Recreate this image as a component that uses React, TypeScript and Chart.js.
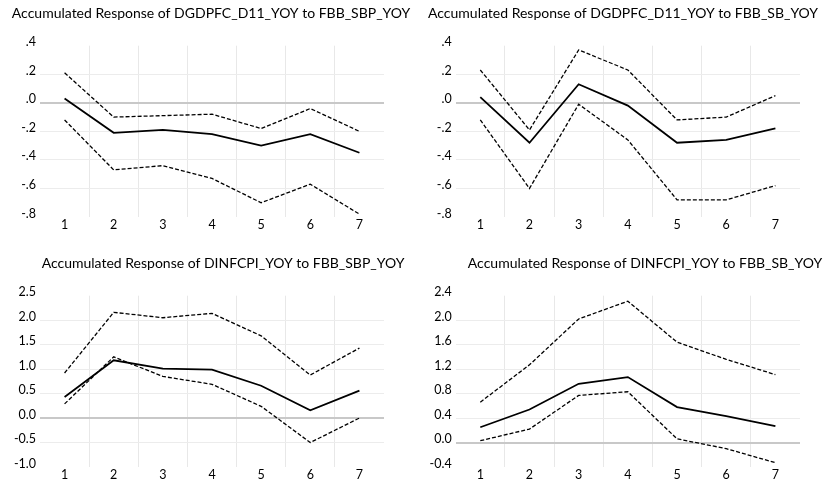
import React, { useEffect, useRef } from "react";
import { Chart, registerables } from "chart.js";

Chart.register(...registerables);

const FONT = "Lato, 'Liberation Sans', sans-serif";

// ---- data ----
const periods = ["1", "2", "3", "4", "5", "6", "7"];

const gdpSbpTitle = "Accumulated Response of DGDPFC_D11_YOY to FBB_SBP_YOY";
const gdpSbpResponse = [0.03, -0.21, -0.19, -0.22, -0.3, -0.22, -0.35];
const gdpSbpUpper = [0.21, -0.1, -0.09, -0.08, -0.18, -0.04, -0.2];
const gdpSbpLower = [-0.12, -0.47, -0.44, -0.53, -0.7, -0.57, -0.78];

const gdpSbTitle = "Accumulated Response of DGDPFC_D11_YOY to FBB_SB_YOY";
const gdpSbResponse = [0.04, -0.28, 0.13, -0.02, -0.28, -0.26, -0.18];
const gdpSbUpper = [0.23, -0.19, 0.37, 0.23, -0.12, -0.1, 0.05];
const gdpSbLower = [-0.12, -0.6, -0.01, -0.26, -0.68, -0.68, -0.58];

const cpiSbpTitle = "Accumulated Response of DINFCPI_YOY to FBB_SBP_YOY";
const cpiSbpResponse = [0.43, 1.18, 1.01, 0.99, 0.66, 0.16, 0.56];
const cpiSbpUpper = [0.92, 2.16, 2.05, 2.14, 1.68, 0.88, 1.43];
const cpiSbpLower = [0.29, 1.25, 0.85, 0.69, 0.24, -0.5, 0.0];

const cpiSbTitle = "Accumulated Response of DINFCPI_YOY to FBB_SB_YOY";
const cpiSbResponse = [0.25, 0.54, 0.96, 1.07, 0.58, 0.43, 0.27];
const cpiSbUpper = [0.66, 1.27, 2.02, 2.31, 1.64, 1.36, 1.11];
const cpiSbLower = [0.03, 0.22, 0.77, 0.83, 0.06, -0.1, -0.33];

const gdpTickValues = [-0.8, -0.6, -0.4, -0.2, 0, 0.2, 0.4];
const gdpTickLabels = ["-.8", "-.6", "-.4", "-.2", ".0", ".2", ".4"];
const cpiSbpTickValues = [-1.0, -0.5, 0, 0.5, 1.0, 1.5, 2.0, 2.5];
const cpiSbpTickLabels = ["-1.0", "-0.5", "0.0", "0.5", "1.0", "1.5", "2.0", "2.5"];
const cpiSbTickValues = [-0.4, 0, 0.4, 0.8, 1.2, 1.6, 2.0, 2.4];
const cpiSbTickLabels = ["-0.4", "0.0", "0.4", "0.8", "1.2", "1.6", "2.0", "2.4"];

type PanelDef = {
  title: string;
  response: number[];
  upper: number[];
  lower: number[];
  tickValues: number[];
  tickLabels: string[];
  left: number;
  top: number;
  width: number;
  height: number;
  yAxisWidth: number;
  padRight: number;
  titleX: number;
};

const panels: PanelDef[] = [
  {
    title: gdpSbpTitle, response: gdpSbpResponse, upper: gdpSbpUpper, lower: gdpSbpLower,
    tickValues: gdpTickValues, tickLabels: gdpTickLabels,
    left: 0, top: 0, width: 430, height: 242, yAxisWidth: 40, padRight: 46, titleX: 211,
  },
  {
    title: gdpSbTitle, response: gdpSbResponse, upper: gdpSbUpper, lower: gdpSbLower,
    tickValues: gdpTickValues, tickLabels: gdpTickLabels,
    left: 413, top: 0, width: 413, height: 242, yAxisWidth: 42.7, padRight: 26, titleX: 210,
  },
  {
    title: cpiSbpTitle, response: cpiSbpResponse, upper: cpiSbpUpper, lower: cpiSbpLower,
    tickValues: cpiSbpTickValues, tickLabels: cpiSbpTickLabels,
    left: 0, top: 250, width: 430, height: 234, yAxisWidth: 40, padRight: 46, titleX: 223,
  },
  {
    title: cpiSbTitle, response: cpiSbResponse, upper: cpiSbUpper, lower: cpiSbLower,
    tickValues: cpiSbTickValues, tickLabels: cpiSbTickLabels,
    left: 413, top: 250, width: 413, height: 234, yAxisWidth: 42.7, padRight: 26, titleX: 232,
  },
];

const PLOT_TOP = 45.7;
const PLOT_BOTTOM = 217;

const panelTitlePlugin = {
  id: "panelTitle",
  afterDraw(chart: any, _args: any, opts: any) {
    const ctx = chart.ctx;
    ctx.save();
    ctx.font = `${opts.size}px ${FONT}`;
    ctx.fillStyle = "#000000";
    ctx.textAlign = "center";
    ctx.textBaseline = "alphabetic";
    ctx.fillText(opts.text, opts.x, opts.y);
    ctx.restore();
  },
};

function Panel({ def }: { def: PanelDef }) {
  const ref = useRef<HTMLCanvasElement | null>(null);
  useEffect(() => {
    if (!ref.current) return;
    const n = def.tickValues.length;
    const chart = new Chart(ref.current, {
      type: "line",
      data: {
        labels: periods,
        datasets: [
          {
            data: def.upper,
            borderColor: "#000000",
            borderWidth: 1.3,
            borderDash: [4, 2],
            pointRadius: 0,
            tension: 0,
            fill: false,
          },
          {
            data: def.response,
            borderColor: "#000000",
            borderWidth: 1.8,
            pointRadius: 0,
            tension: 0,
            fill: false,
          },
          {
            data: def.lower,
            borderColor: "#000000",
            borderWidth: 1.3,
            borderDash: [4, 2],
            pointRadius: 0,
            tension: 0,
            fill: false,
          },
        ],
      },
      plugins: [panelTitlePlugin],
      options: {
        animation: false,
        responsive: false,
        devicePixelRatio: 1,
        layout: {
          padding: { top: PLOT_TOP, right: def.padRight, left: 0, bottom: 0 },
        },
        plugins: {
          legend: { display: false },
          tooltip: { enabled: false },
          title: { display: false },
          panelTitle: { text: def.title, x: def.titleX, y: 18.3, size: 14 },
        } as any,
        scales: {
          x: {
            type: "category",
            offset: true,
            grid: {
              offset: true,
              drawTicks: false,
              lineWidth: 1,
              color: (ctx: any) =>
                ctx.index === undefined || ctx.index === 0 ? "rgba(0,0,0,0)" : "#e8e8e8",
            },
            border: { display: false },
            ticks: {
              color: "#000000",
              padding: 0,
              maxRotation: 0,
              autoSkip: false,
              font: { family: FONT, size: 12.5, lineHeight: 1.2 },
            },
            afterFit: (scale: any) => {
              scale.height = def.height - PLOT_BOTTOM;
            },
          },
          y: {
            type: "linear",
            min: def.tickValues[0],
            max: def.tickValues[n - 1],
            afterBuildTicks: (scale: any) => {
              scale.ticks = def.tickValues.map((v) => ({ value: v }));
            },
            grid: {
              drawTicks: false,
              lineWidth: (ctx: any) => (ctx.tick && Math.abs(ctx.tick.value) < 1e-9 ? 2 : 1),
              color: (ctx: any) => {
                if (ctx.index === 0 || ctx.index === n - 1) return "rgba(0,0,0,0)";
                if (ctx.tick && Math.abs(ctx.tick.value) < 1e-9) return "#c8c8c8";
                return "#ececec";
              },
            },
            border: { display: false },
            ticks: {
              color: "#000000",
              padding: 4,
              labelOffset: -3.5,
              font: { family: FONT, size: 12.5 },
              callback: (_v: any, i: number) => def.tickLabels[i],
            },
            afterFit: (scale: any) => {
              scale.width = def.yAxisWidth;
            },
          },
        },
      } as any,
    });
    return () => chart.destroy();
  }, [def]);

  return (
    <canvas
      ref={ref}
      width={def.width}
      height={def.height}
      style={{
        position: "absolute",
        left: def.left,
        top: def.top,
        width: def.width,
        height: def.height,
      }}
    />
  );
}

export default function App() {
  useEffect(() => {
    document.body.style.margin = "0";
  }, []);
  return (
    <div
      style={{
        position: "fixed",
        left: 0,
        top: 0,
        width: 826,
        height: 484,
        overflow: "hidden",
        background: "#ffffff",
      }}
    >
      {panels.map((p, i) => (
        <Panel key={i} def={p} />
      ))}
    </div>
  );
}
